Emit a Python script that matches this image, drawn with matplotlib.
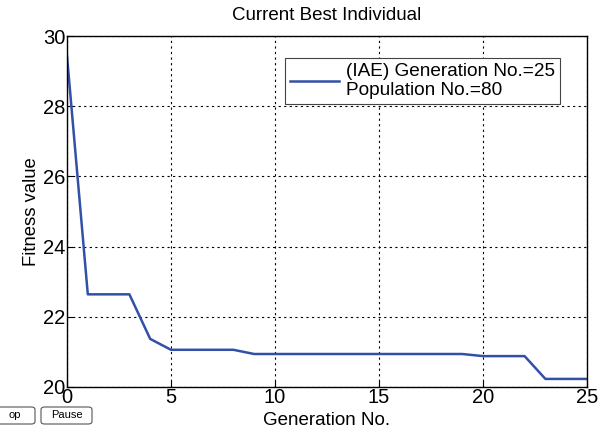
import matplotlib

matplotlib.use("Agg")
import matplotlib.pyplot as plt
from matplotlib.patches import FancyBboxPatch

plt.rcParams["font.family"] = ["Liberation Sans", "DejaVu Sans"]

# best fitness per generation (IAE criterion)
generation = [0, 1, 2, 3, 4, 5, 6, 7, 8, 9, 10, 11, 12, 13, 14, 15, 16, 17,
              18, 19, 20, 21, 22, 23, 24, 25]
fitness = [29.43, 22.64, 22.64, 22.64, 21.37, 21.06, 21.06, 21.06, 21.06,
           20.94, 20.94, 20.94, 20.94, 20.94, 20.94, 20.94, 20.94, 20.94,
           20.94, 20.94, 20.88, 20.88, 20.88, 20.23, 20.23, 20.23]
x_ticks = [0, 5, 10, 15, 20, 25]
y_ticks = [20, 22, 24, 26, 28, 30]
legend_text = "(IAE) Generation No.=25\nPopulation No.=80"

fig = plt.figure(figsize=(5.99, 4.32), dpi=100)
W, H = 599, 432
ax = fig.add_axes([67 / W, 1 - 387 / H, (587 - 67) / W, (387 - 36) / H])

ax.plot(generation, fitness, color="#3350a8", lw=1.8, label=legend_text)
ax.set_xlim(0, 25)
ax.set_ylim(20, 30)
ax.set_xticks(x_ticks)
ax.set_yticks(y_ticks)
ax.tick_params(labelsize=14.5, direction="in", length=4, pad=1)
ax.grid(True, color="black", linestyle=(0, (2, 3)), lw=0.8)
for s in ax.spines.values():
    s.set_linewidth(1.0)

fig.text(0.5 * (67 + 587) / W, 1 - 15 / H, "Current Best Individual",
         fontsize=13.5, ha="center", va="center")
ax.set_xlabel("Generation No.", fontsize=13.5, labelpad=3)
ax.set_ylabel("Fitness value", fontsize=13.3, labelpad=2)

leg = ax.legend(loc="upper left", bbox_to_anchor=((285 - 67) / 520, 1 - (58 - 36) / 351),
                fontsize=13.7, fancybox=False, framealpha=1, edgecolor="#444444",
                handlelength=2.6, borderpad=0.25, labelspacing=0.1,
                handletextpad=0.35, borderaxespad=0)
leg.get_frame().set_linewidth(0.8)

# GUI buttons under the axes
for x0, w, label in [(-6, 41, "op"), (41, 51, "Pause")]:
    fig.patches.append(FancyBboxPatch((x0 / W, 1 - 424 / H), w / W, 17 / H,
                                      boxstyle="round,pad=0,rounding_size=0.006",
                                      transform=fig.transFigure, fc="white",
                                      ec="#555555", lw=0.8))
    fig.text((x0 + w / 2) / W, 1 - 415.5 / H, label, fontsize=8,
             ha="center", va="center")

fig.savefig("out.png", dpi=100)
